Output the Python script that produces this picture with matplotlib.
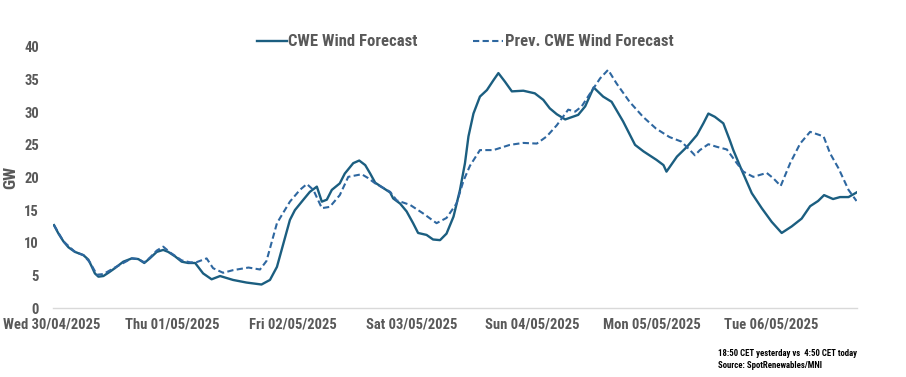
import numpy as np
import matplotlib
matplotlib.use("Agg")
import matplotlib.pyplot as plt
from matplotlib import font_manager
import matplotlib.patheffects as pe
from matplotlib.transforms import ScaledTranslation

# pick a narrow family if one is installed
fonts = font_manager.fontManager.ttflist
installed = {f.name for f in fonts}
candidates = ['Liberation Sans Narrow', 'Roboto Condensed', 'DejaVu Sans Condensed',
              'Open Sans Condensed', 'Noto Sans Condensed']
family = next((c for c in candidates if c in installed), 'Lato')
has_bold = any(f.name == family and (f.weight == 'bold' or
               (isinstance(f.weight, int) and f.weight >= 600)) for f in fonts)
plt.rcParams['font.family'] = [family, 'DejaVu Sans']
plt.rcParams['font.weight'] = 'bold'
plt.rcParams['axes.labelweight'] = 'bold'
# fake the bold weight with a thin outline when no bold face exists
fx = [] if has_bold else [pe.withStroke(linewidth=0.7, foreground='#595959')]
fx_black = [] if has_bold else [pe.withStroke(linewidth=0.5, foreground='black')]

# hours since Wed 30/04/2025 00:00
cur_hours = [0.2, 1.1, 2.1, 3.1, 4.4, 6.1, 7.1, 7.8, 8.4, 9.1, 10.1, 11.1, 12.4, 14.1, 15.8,
             17.1, 18.3, 19.4, 20.8, 22.1, 23.1, 24.5, 25.8, 27.1, 28.5, 30.1, 31.8, 33.5,
             36.1, 38.8, 41.8, 43.5, 44.9, 46.2, 47.5, 48.5, 50.2, 51.5, 52.9, 53.9, 54.9,
             55.9, 57.5, 58.5, 60.2, 61.4, 62.6, 63.6, 64.6, 66.2, 67.6, 68.2, 69.6, 70.9,
             72.2, 73.2, 74.9, 76.2, 77.6, 78.9, 80.3, 81.6, 82.6, 83.3, 84.3, 85.6, 87.0,
             88.3, 89.3, 90.6, 92.0, 94.3, 96.6, 98.3, 99.6, 101.0, 102.7, 105.3, 106.7,
             108.4, 110.3, 112.0, 114.3, 116.7, 118.4, 121.0, 122.4, 123.0, 125.1, 127.1,
             129.1, 130.4, 131.4, 132.7, 134.4, 135.7, 136.4, 138.1, 140.1, 142.1, 144.1,
             146.1, 148.1, 150.1, 151.8, 153.4, 154.6, 156.4, 157.8, 159.5, 161.1]
cur_gw = [12.7, 11.4, 10.2, 9.3, 8.6, 8.1, 7.4, 6.3, 5.3, 4.8, 4.9, 5.4, 6.1, 7.1, 7.6,
          7.5, 6.9, 7.6, 8.6, 8.9, 8.6, 7.9, 7.1, 6.9, 6.9, 5.3, 4.4, 4.9,
          4.3, 3.9, 3.6, 4.3, 6.3, 9.9, 13.5, 15.0, 16.6, 17.8, 18.6, 16.3, 16.6,
          18.1, 19.1, 20.6, 22.2, 22.6, 21.9, 20.6, 19.2, 18.4, 17.7, 16.8, 16.0, 14.8,
          13.0, 11.5, 11.2, 10.5, 10.4, 11.4, 14.0, 18.1, 22.2, 26.3, 29.8, 32.4, 33.4,
          34.9, 36.0, 34.7, 33.2, 33.3, 32.9, 31.9, 30.6, 29.7, 28.9, 29.6, 30.9,
          33.8, 32.4, 31.6, 28.6, 25.0, 24.0, 22.7, 21.9, 20.9, 23.2, 24.7,
          26.5, 28.3, 29.8, 29.3, 28.3, 25.7, 24.2, 21.1, 17.6, 15.3, 13.2,
          11.5, 12.5, 13.7, 15.6, 16.4, 17.3, 16.7, 17.0, 17.0, 17.7]

prev_hours = [0.2, 2.1, 4.4, 6.1, 7.4, 8.8, 10.1, 12.4, 15.8, 17.1, 18.3, 19.4, 20.8, 22.1,
              23.5, 25.8, 27.5, 28.7, 30.8, 32.1, 34.1, 36.1, 39.2, 41.5, 42.8, 44.9, 47.5,
              49.5, 50.9, 52.2, 53.9, 55.5, 57.5, 59.2, 61.9, 63.2, 64.6, 67.6, 68.9, 71.6,
              74.2, 76.9, 78.9, 80.9, 82.3, 83.6, 85.6, 88.3, 91.6, 94.3, 97.0, 99.0, 101.0,
              103.3, 104.7, 106.0, 107.7, 109.7, 111.3, 113.0, 115.6, 118.3, 120.9, 123.6,
              126.0, 127.7, 128.7, 129.7, 131.4, 133.1, 135.1, 137.1, 138.4, 140.4, 143.1,
              144.4, 145.9, 147.8, 149.8, 151.8, 154.5, 155.8, 157.5, 159.5, 161.1]
prev_gw = [12.7, 10.2, 8.6, 8.1, 7.0, 5.1, 5.2, 6.2, 7.6, 7.5, 7.0, 7.7, 8.8, 9.4,
           8.5, 7.3, 7.0, 7.0, 7.6, 6.1, 5.4, 5.8, 6.2, 5.9, 7.2, 13.0, 16.3,
           18.1, 19.0, 18.1, 15.3, 15.5, 17.3, 20.1, 20.5, 19.9, 19.1, 17.8, 16.5, 15.8,
           14.5, 13.0, 13.8, 16.0, 19.5, 21.8, 24.2, 24.2, 25.0, 25.3, 25.2, 26.3, 28.0,
           30.4, 30.1, 30.9, 32.9, 35.2, 36.5, 34.4, 31.6, 29.3, 27.5, 26.2,
           25.5, 24.2, 23.4, 24.2, 25.1, 24.7, 24.3, 22.2, 20.9, 20.1, 20.7,
           19.9, 18.7, 22.2, 25.2, 27.0, 26.3, 23.7, 21.4, 18.1, 16.4]

day_labels = ['Wed 30/04/2025', 'Thu 01/05/2025', 'Fri 02/05/2025', 'Sat 03/05/2025',
              'Sun 04/05/2025', 'Mon 05/05/2025', 'Tue 06/05/2025']

k = 1.0 if family != 'Lato' else 0.85

fig = plt.figure(figsize=(9.06, 3.77), dpi=100)
ax = fig.add_axes([53/906, 1 - 308/377, 804/906, 261/377])

ax.plot(cur_hours, cur_gw, color='#1b5e80', lw=1.7, label='CWE Wind Forecast')
ax.plot(prev_hours, prev_gw, color='#2e67a0', lw=1.5, dashes=(3, 1.6),
        label='Prev. CWE Wind Forecast')

ax.set_xlim(0, 161.2)
ax.set_ylim(0, 40)
ax.set_yticks(range(0, 41, 5))
ax.set_xticks(np.arange(len(day_labels)) * 24)
ax.set_xticklabels(day_labels)

for s in ['top', 'right', 'left']:
    ax.spines[s].set_visible(False)
ax.spines['bottom'].set_color('#d9d9d9')
ax.spines['bottom'].set_linewidth(1.0)
ax.tick_params(axis='both', length=0, colors='#595959', labelsize=10.5 * k)
ax.tick_params(axis='y', pad=10)
ax.tick_params(axis='x', pad=7)
for t in ax.get_xticklabels() + ax.get_yticklabels():
    t.set_fontweight('bold')
    t.set_path_effects(fx)

first = ax.get_xticklabels()[0]
first.set_ha('left')
first.set_transform(first.get_transform() + ScaledTranslation(-0.50, 0, fig.dpi_scale_trans))

ax.set_ylabel('GW', fontsize=12.5 * k, color='#595959', fontweight='bold', path_effects=fx)
ax.yaxis.set_label_coords(-35/804, 0.5)

leg = fig.legend(loc='center', bbox_to_anchor=(465/906, 1 - 42/377), ncol=2, frameon=False,
                 prop={'size': 12 * k, 'weight': 'bold'}, labelcolor='#595959',
                 handlelength=1.8, handletextpad=0.1, columnspacing=3.3)
for t in leg.get_texts():
    t.set_path_effects(fx)

fig.text(718/906, 1 - 353/377, '18:50 CET yesterday vs  4:50 CET today',
         fontsize=6.3 * k, color='black', va='center', path_effects=fx_black)
fig.text(718/906, 1 - 366/377, 'Source: SpotRenewables/MNI',
         fontsize=6.3 * k, color='black', va='center', path_effects=fx_black)

fig.savefig('out.png', dpi=100)
